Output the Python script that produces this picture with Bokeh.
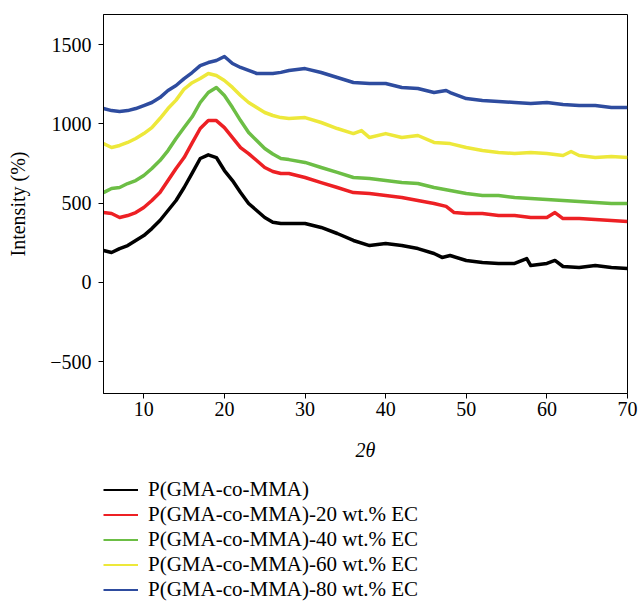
from bokeh.plotting import figure
from bokeh.layouts import column
from bokeh.models import Legend, LegendItem, Range1d, FixedTicker
from bokeh.embed import file_html
from bokeh.resources import INLINE

# ---- data ----
x_black = [5, 6, 7, 8, 9, 10, 11, 12, 13, 14, 15, 16, 17, 18, 19, 20, 21, 22, 23, 24, 25, 26, 27, 28, 30, 32, 34, 36, 38, 40, 42, 44, 46, 47, 48, 50, 52, 54, 56, 57.5, 58, 60, 61, 62, 64, 66, 68, 70]
y_black = [202, 189, 214, 233, 265, 296, 340, 391, 454, 517, 599, 690, 782, 805, 788, 706, 643, 567, 498, 454, 410, 380, 372, 372, 372, 347, 309, 265, 233, 246, 233, 214, 183, 158, 170, 139, 126, 120, 120, 151, 107, 120, 139, 101, 95, 107, 95, 88]

x_red = [5, 6, 7, 8, 9, 10, 11, 12, 13, 14, 15, 16, 17, 18, 19, 20, 21, 22, 23, 24, 25, 26, 27, 28, 30, 32, 34, 36, 38, 40, 42, 44, 46, 47.5, 48.5, 50, 52, 54, 56, 58, 60, 61, 62, 64, 66, 68, 70]
y_red = [441, 435, 410, 422, 441, 473, 517, 567, 643, 719, 788, 880, 971, 1021, 1021, 977, 914, 851, 813, 769, 725, 700, 687, 687, 662, 630, 599, 567, 561, 549, 536, 517, 498, 480, 441, 435, 435, 422, 422, 410, 410, 441, 403, 403, 397, 391, 385]

x_green = [5, 6, 7, 8, 9, 10, 11, 12, 13, 14, 15, 16, 17, 18, 19, 20, 21, 22, 23, 24, 25, 26, 27, 28, 30, 32, 34, 36, 38, 40, 42, 44, 46, 48, 50, 52, 54, 56, 58, 60, 62, 64, 66, 68, 70]
y_green = [567, 593, 599, 624, 643, 675, 719, 769, 832, 908, 977, 1045, 1135, 1198, 1230, 1179, 1103, 1021, 946, 895, 845, 810, 782, 775, 757, 725, 694, 662, 656, 643, 630, 624, 599, 580, 561, 549, 549, 536, 530, 523, 517, 511, 504, 498, 498]

x_yellow = [5, 6, 7, 8, 9, 10, 11, 12, 13, 14, 15, 16, 17, 18, 19, 20, 21, 22, 23, 24, 25, 26, 27, 28, 30, 32, 34, 36, 37, 38, 40, 42, 44, 46, 48, 50, 52, 54, 56, 58, 60, 62, 63, 64, 66, 68, 70]
y_yellow = [876, 851, 864, 883, 908, 939, 977, 1034, 1097, 1150, 1220, 1260, 1286, 1318, 1305, 1274, 1230, 1179, 1135, 1103, 1072, 1053, 1040, 1034, 1040, 1009, 971, 939, 958, 914, 939, 914, 927, 883, 876, 851, 832, 820, 813, 820, 813, 801, 826, 801, 788, 794, 788]

x_blue = [5, 6, 7, 8, 9, 10, 11, 12, 13, 14, 15, 16, 17, 18, 19, 20, 21, 22, 23, 24, 25, 26, 27, 28, 30, 32, 34, 36, 38, 40, 42, 44, 46, 47.5, 48, 50, 52, 54, 56, 58, 60, 62, 64, 66, 68, 70]
y_blue = [1097, 1084, 1078, 1084, 1097, 1116, 1135, 1166, 1211, 1242, 1286, 1324, 1368, 1387, 1400, 1425, 1381, 1356, 1337, 1318, 1318, 1318, 1325, 1337, 1349, 1324, 1293, 1261, 1255, 1255, 1230, 1223, 1198, 1211, 1198, 1160, 1148, 1141, 1135, 1129, 1135, 1122, 1116, 1116, 1103, 1103]

labels = ["P(GMA-co-MMA)", "P(GMA-co-MMA)-20 wt.% EC", "P(GMA-co-MMA)-40 wt.% EC",
          "P(GMA-co-MMA)-60 wt.% EC", "P(GMA-co-MMA)-80 wt.% EC"]
colors = ["#000000", "#ED2024", "#6CBE45", "#EDE83A", "#2E4C9F"]
x_ticks = [10, 20, 30, 40, 50, 60, 70]
y_ticks = [-500, 0, 500, 1000, 1500]

FONT = "Liberation Serif"

p = figure(width=638, height=477, output_backend="svg", toolbar_location=None,
           x_range=Range1d(5, 70), y_range=Range1d(-700, 1690),
           min_border_left=103, min_border_right=11, min_border_top=14, min_border_bottom=84)

p.xgrid.visible = False
p.ygrid.visible = False
p.outline_line_color = "black"
p.outline_line_width = 1

series = [(x_black, y_black), (x_red, y_red), (x_green, y_green), (x_yellow, y_yellow), (x_blue, y_blue)]
for (xs, ys), c in zip(series, colors):
    p.line(xs, ys, line_color=c, line_width=3.5, line_join="round")

for ax in (p.xaxis[0], p.yaxis[0]):
    ax.axis_line_color = "black"
    ax.major_tick_line_color = "black"
    ax.major_tick_in = 0
    ax.major_tick_out = 5
    ax.minor_tick_line_color = None
    ax.major_label_text_font = FONT
    ax.major_label_text_font_size = "20px"
    ax.major_label_text_color = "black"
    ax.axis_label_text_font = FONT
    ax.axis_label_text_font_size = "20px"
    ax.axis_label_text_color = "black"

p.xaxis.ticker = FixedTicker(ticks=x_ticks)
p.yaxis.ticker = FixedTicker(ticks=y_ticks)
p.yaxis.major_label_overrides = {-500: "\u2212500"}
p.xaxis.axis_label = "2\u03b8"
p.xaxis.axis_label_text_font_style = "italic"
p.xaxis.major_label_standoff = 3
p.xaxis.axis_label_standoff = 20
p.yaxis.axis_label = "Intensity (%)"
p.yaxis.axis_label_text_font_style = "normal"
p.yaxis.major_label_standoff = 7
p.yaxis.axis_label_standoff = 18

# legend panel below the chart (its lines draw the same series, outside its view)
p2 = figure(width=638, height=126, output_backend="svg", toolbar_location=None,
            x_range=Range1d(5, 70), y_range=Range1d(5000, 6000),
            x_axis_type=None, y_axis_type=None,
            min_border_left=103, min_border_right=11, min_border_top=0, min_border_bottom=0)
p2.xgrid.visible = False
p2.ygrid.visible = False
p2.outline_line_color = None
items = []
for (xs, ys), c, lab in zip(series, colors, labels):
    r = p2.line(xs, ys, line_color=c, line_width=2)
    items.append(LegendItem(label=lab, renderers=[r]))

legend = Legend(items=items, location="top_left", orientation="vertical",
                border_line_color=None, background_fill_alpha=0,
                label_text_font=FONT, label_text_font_size="21px", label_text_color="black",
                glyph_width=35, glyph_height=25, label_height=25, label_standoff=10,
                spacing=0, padding=0, margin=0)
p2.add_layout(legend, "center")

layout = column(p, p2, spacing=0)
open("out.html", "w").write(file_html(layout, INLINE))
